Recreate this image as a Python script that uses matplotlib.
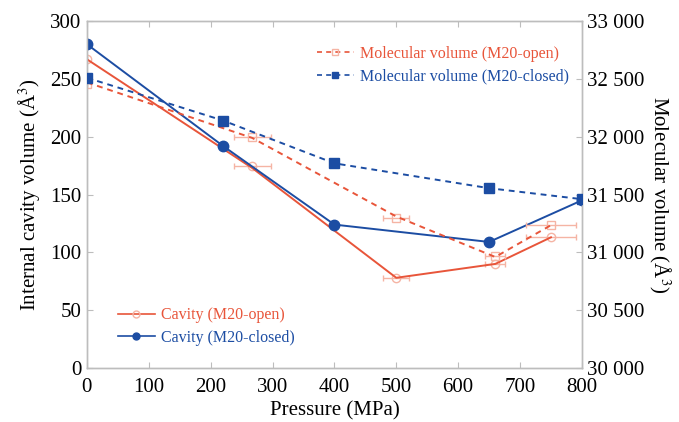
import matplotlib
matplotlib.use("Agg")
import matplotlib.pyplot as plt
from matplotlib.lines import Line2D

plt.rcParams['font.family'] = ['Liberation Serif', 'DejaVu Serif']
plt.rcParams['mathtext.fontset'] = 'stix'

# cavity volumes (left axis, A^3)
p_closed = [0, 220, 400, 650, 800]
cav_closed = [280, 192, 124, 109, 145]
p_open = [0, 267, 500, 660, 750]
p_open_err = [0, 30, 21, 16, 40]
cav_open = [267, 175, 78, 90, 113]
cav_open_line = [267, 173, 78, 90, 113]

# molecular volumes (right axis, A^3)
mol_closed = [32510, 32140, 31770, 31555, 31460]
mol_open = [32455, 32000, 31300, 30965, 31235]
mol_open_line = [32470, 31990, 31310, 30960, 31235]

red = '#e8553a'
faint = '#f5b4a4'
blue = '#1c4da3'
grey = '#bdbdbd'

fig = plt.figure(figsize=(6.79, 4.22), dpi=100)
ax = fig.add_axes([0.128, 0.128, 0.729, 0.822])
ax2 = ax.twinx()

# faint measured points with x error bars
ax.errorbar(p_open, cav_open, xerr=p_open_err, fmt='o', ms=6, mfc='none',
            mec=faint, ecolor=faint, elinewidth=1, capsize=2, mew=1, zorder=2)
ax2.errorbar(p_open, mol_open, xerr=p_open_err, fmt='s', ms=6, mfc='none',
             mec=faint, ecolor=faint, elinewidth=1, capsize=2, mew=1, zorder=2)

ax.plot(p_open, cav_open_line, color=red, lw=1.4, zorder=3)
ax.plot(p_closed, cav_closed, color=blue, lw=1.4, marker='o', ms=7.5, zorder=4)
ax2.plot(p_open, mol_open_line, color=red, lw=1.4, ls=(0, (3, 2.5)), zorder=3)
ax2.plot(p_closed, mol_closed, color=blue, lw=1.4, ls=(0, (3, 2.5)),
         marker='s', ms=7.5, zorder=4)

ax.set_xlim(0, 800)
ax.set_ylim(0, 300)
ax2.set_ylim(30000, 33000)
ax.set_xticks(range(0, 801, 100))
ax.set_yticks(range(0, 301, 50))
ax2.set_yticks(range(30000, 33001, 500))
ax2.set_yticklabels([f"{v // 1000} {v % 1000:03d}" for v in range(30000, 33001, 500)])

for a in (ax, ax2):
    for s in a.spines.values():
        s.set_color(grey)
        s.set_linewidth(1.0)
    a.tick_params(direction='in', length=4, color=grey, labelsize=15, pad=4)
ax.tick_params(top=True)
ax.tick_params(axis='x', pad=7)

ax.set_xlabel('Pressure (MPa)', fontsize=15, labelpad=3)
ax.set_ylabel('Internal cavity volume (Å$^3$)', fontsize=15, labelpad=5)
ax2.set_ylabel('Molecular volume (Å$^3$)', fontsize=15, rotation=270, labelpad=20)

h_mol = [
    Line2D([], [], color=red, lw=1.2, ls=(0, (3, 2.5)), marker='s', ms=5,
           mfc='none', mec=faint),
    Line2D([], [], color=blue, lw=1.2, ls=(0, (3, 2.5)), marker='s', ms=5),
]
leg1 = ax.legend(h_mol, ['Molecular volume (M20-open)', 'Molecular volume (M20-closed)'],
                 loc='upper right', bbox_to_anchor=(1.003, 0.97), frameon=False,
                 fontsize=11.5, handlelength=2.3, handletextpad=0.4, labelspacing=0.4)
for t, c in zip(leg1.get_texts(), [red, blue]):
    t.set_color(c)
ax.add_artist(leg1)

h_cav = [
    Line2D([], [], color=red, lw=1.2, marker='o', ms=5, mfc='none', mec=faint),
    Line2D([], [], color=blue, lw=1.2, marker='o', ms=5),
]
leg2 = ax.legend(h_cav, ['Cavity (M20-open)', 'Cavity (M20-closed)'],
                 loc='lower left', bbox_to_anchor=(0.0335, 0.023), frameon=False,
                 fontsize=11.5, handlelength=2.3, handletextpad=0.4, labelspacing=0.4)
for t, c in zip(leg2.get_texts(), [red, blue]):
    t.set_color(c)

fig.savefig('out.png', dpi=100)
